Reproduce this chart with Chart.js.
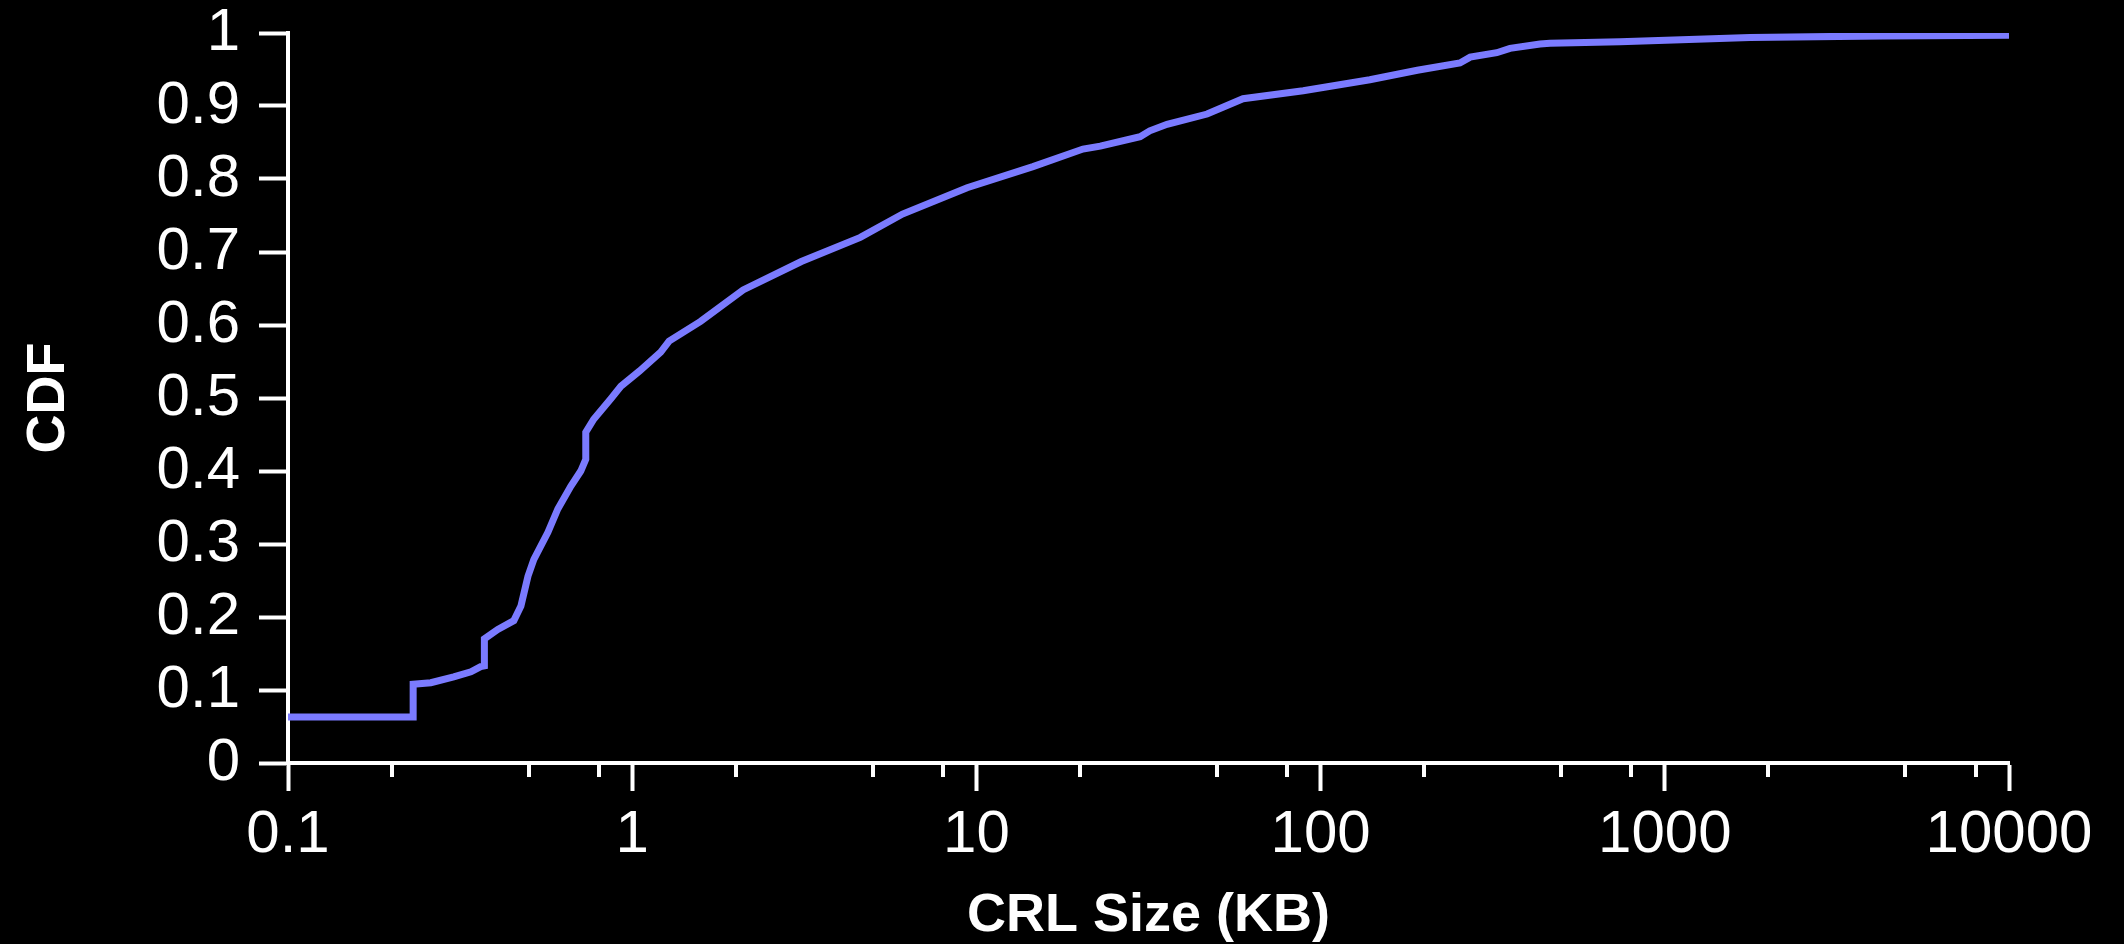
<!DOCTYPE html>
<html>
<head>
<meta charset="utf-8">
<script src="https://cdn.jsdelivr.net/npm/chart.js@4.4.1/dist/chart.umd.min.js"></script>
<style>
  html, body { margin: 0; padding: 0; background: #000; }
  #wrap { width: 2124px; height: 944px; }
</style>
</head>
<body>
<div id="wrap"><canvas id="cdfChart"></canvas></div>
<script>
  // CRL size CDF
  const sizesKB = [0.1, 0.231, 0.231, 0.26, 0.303, 0.34, 0.363, 0.372, 0.372, 0.407, 0.453, 0.475,
    0.498, 0.518, 0.569, 0.608, 0.663, 0.709, 0.733, 0.733, 0.773, 0.867, 0.927, 1.05, 1.21, 1.28,
    1.58, 2.1, 3.1, 4.6, 6.1, 9.4, 14.6, 20.4, 22.9, 29.9, 31.9, 35.8, 46.8, 59.5, 89, 139, 191,
    254, 272, 325, 355, 434, 464, 741, 1770, 4300, 10000];
  const cdfValues = [0.063, 0.063, 0.108, 0.110, 0.118, 0.125, 0.132, 0.133, 0.170, 0.183, 0.195, 0.215,
    0.256, 0.279, 0.316, 0.348, 0.379, 0.400, 0.416, 0.453, 0.471, 0.499, 0.516, 0.537, 0.563, 0.578,
    0.605, 0.648, 0.687, 0.720, 0.752, 0.788, 0.817, 0.841, 0.845, 0.858, 0.866, 0.875, 0.889, 0.910,
    0.921, 0.936, 0.949, 0.959, 0.967, 0.973, 0.979, 0.985, 0.986, 0.988, 0.994, 0.996, 0.997];

  const xMajorTicks = [0.1, 1, 10, 100, 1000, 10000];
  const xMinorMultipliers = [2, 5, 8];
  const yTicks = [0, 0.1, 0.2, 0.3, 0.4, 0.5, 0.6, 0.7, 0.8, 0.9, 1];

  const FONT = "'Liberation Sans', Helvetica, Arial, sans-serif";
  const WHITE = '#ffffff';

  // short minor ticks on the log axis (2, 5, 8 of each decade)
  const minorTicks = {
    id: 'minorTicks',
    afterDraw(chart) {
      const xs = chart.scales.x;
      const ctx = chart.ctx;
      const bottom = chart.chartArea.bottom;
      ctx.save();
      ctx.strokeStyle = WHITE;
      ctx.lineWidth = 4;
      for (let i = 0; i < xMajorTicks.length - 1; i++) {
        xMinorMultipliers.forEach(m => {
          const px = Math.round(xs.getPixelForValue(xMajorTicks[i] * m));
          ctx.beginPath();
          ctx.moveTo(px, bottom);
          ctx.lineTo(px, bottom + 14);
          ctx.stroke();
        });
      }
      ctx.restore();
    }
  };

  const points = sizesKB.map((v, i) => ({ x: v, y: cdfValues[i] }));

  new Chart(document.getElementById('cdfChart'), {
    type: 'line',
    data: {
      datasets: [{
        data: points,
        borderColor: '#7b7bff',
        borderWidth: 7,
        pointRadius: 0,
        tension: 0,
        fill: false
      }]
    },
    options: {
      responsive: true,
      maintainAspectRatio: false,
      animation: false,
      devicePixelRatio: 1,
      layout: { padding: { top: 33, right: 115, bottom: -5, left: 0 } },
      plugins: { legend: { display: false }, tooltip: { enabled: false } },
      scales: {
        x: {
          type: 'logarithmic',
          min: 0.1,
          max: 10000,
          afterBuildTicks: (s) => { s.ticks = xMajorTicks.map(v => ({ value: v })); },
          afterFit: (s) => { s.height = 186; s.paddingLeft = 0; s.paddingRight = 0; },
          ticks: {
            color: WHITE,
            font: { family: FONT, size: 60 },
            padding: 8,
            maxRotation: 0,
            autoSkip: false,
            callback: (v) => String(v)
          },
          grid: { drawOnChartArea: false, drawTicks: true, tickLength: 28, tickColor: WHITE, tickWidth: 4 },
          border: { display: true, color: WHITE, width: 4 },
          title: {
            display: true,
            text: 'CRL Size (KB)',
            color: WHITE,
            font: { family: FONT, size: 54, weight: 'bold' },
            padding: { top: 0, bottom: 0 }
          }
        },
        y: {
          min: 0,
          max: 1,
          afterBuildTicks: (s) => { s.ticks = yTicks.map(v => ({ value: v })); },
          afterFit: (s) => { s.width = 288; s.paddingTop = 0; s.paddingBottom = 0; },
          ticks: {
            color: WHITE,
            font: { family: FONT, size: 60 },
            padding: 19,
            autoSkip: false,
            callback: (v) => String(v)
          },
          grid: { drawOnChartArea: false, drawTicks: true, tickLength: 29, tickColor: WHITE, tickWidth: 4 },
          border: { display: true, color: WHITE, width: 4 },
          title: {
            display: true,
            text: 'CDF',
            color: WHITE,
            font: { family: FONT, size: 54, weight: 'bold' },
            padding: { top: 17, bottom: 0 }
          }
        }
      }
    },
    plugins: [minorTicks]
  });
</script>
</body>
</html>
